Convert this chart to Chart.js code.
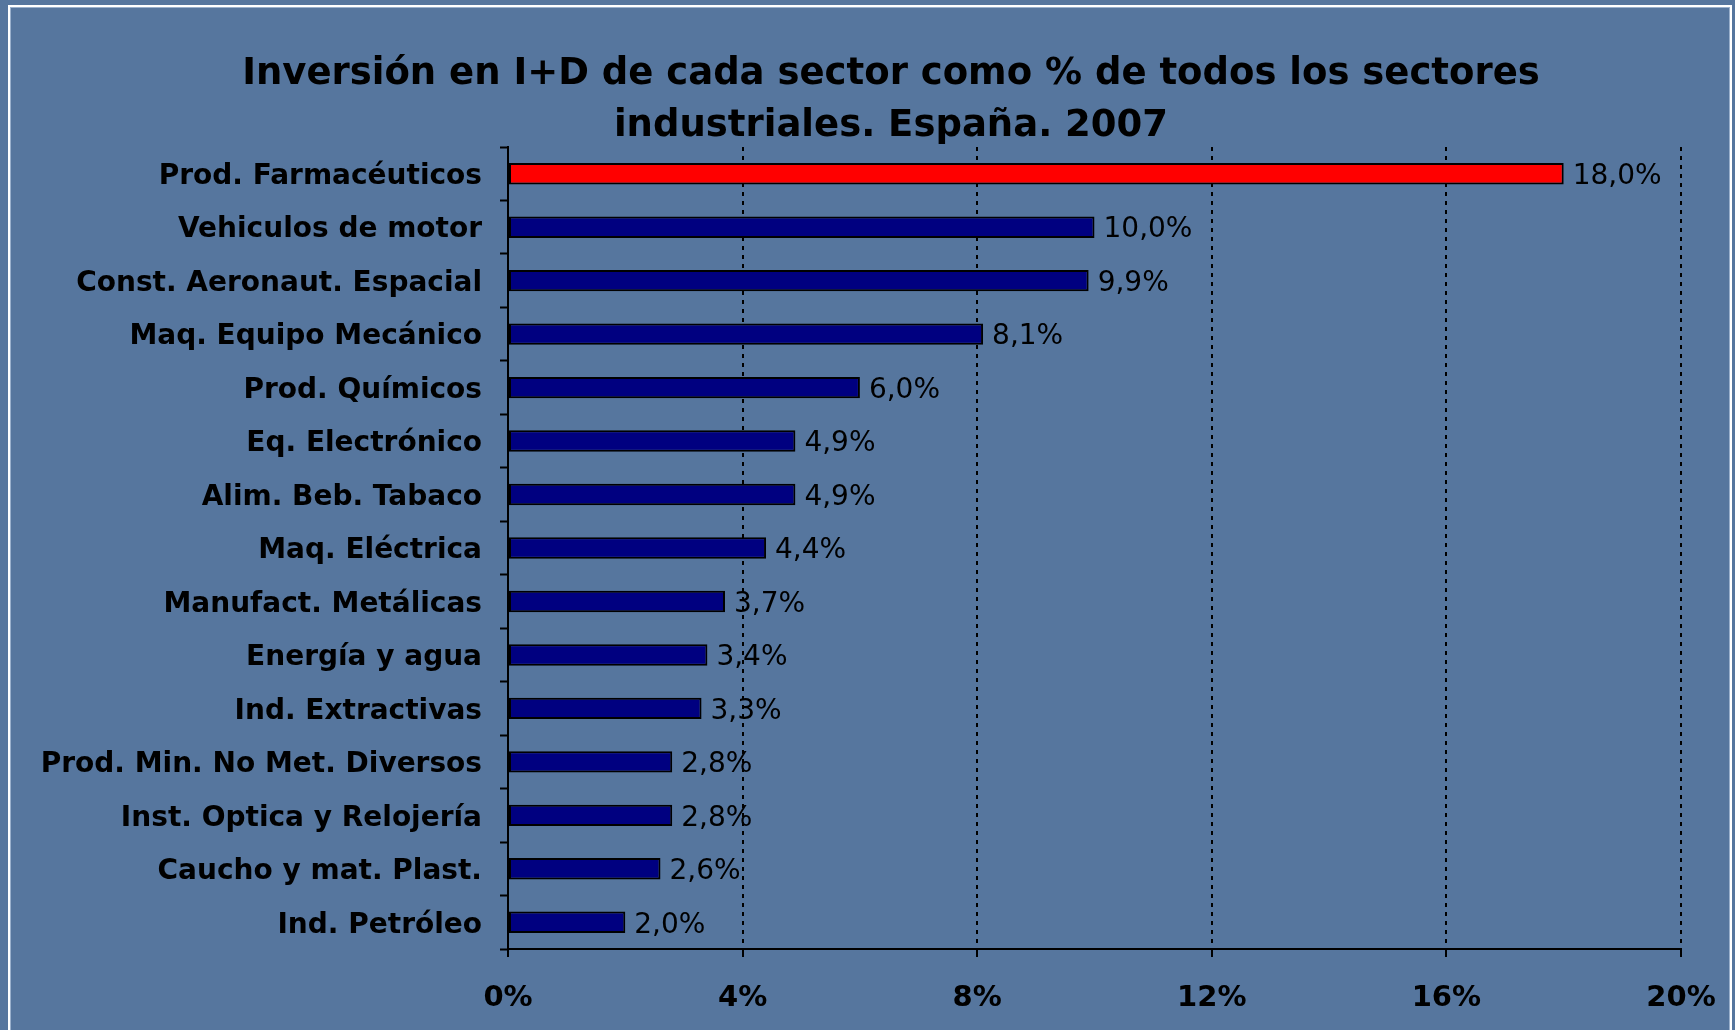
<!DOCTYPE html>
<html>
<head>
<meta charset="utf-8">
<script src="https://cdn.jsdelivr.net/npm/chart.js@4.4.1/dist/chart.umd.min.js"></script>
<style>
  html, body { margin: 0; padding: 0; background: rgb(86,118,158); overflow: hidden; }
  #wrap { position: relative; width: 1735px; height: 1030px; }
  #frame { position: absolute; left: 8px; top: 5px; width: 1724px; height: 1040px;
           border: 2px solid #ffffff; box-shadow: inset 0 0 0 1px rgba(200,215,235,0.6); box-sizing: border-box; }
  canvas { position: absolute; left: 0; top: 0; }
</style>
</head>
<body>
<div id="wrap">
  <div id="frame"></div>
  <canvas id="c" width="1735" height="1030"></canvas>
</div>
<script>
const titleLines = ["Inversión en I+D de cada sector como % de todos los sectores", "industriales. España. 2007"];
const categories = ["Prod. Farmacéuticos", "Vehiculos de motor", "Const. Aeronaut. Espacial", "Maq. Equipo Mecánico",
  "Prod. Químicos", "Eq. Electrónico", "Alim. Beb. Tabaco", "Maq. Eléctrica", "Manufact. Metálicas",
  "Energía y agua", "Ind. Extractivas", "Prod. Min. No Met. Diversos", "Inst. Optica y Relojería",
  "Caucho y mat. Plast.", "Ind. Petróleo"];
const values = [18.0, 10.0, 9.9, 8.1, 6.0, 4.9, 4.9, 4.4, 3.7, 3.4, 3.3, 2.8, 2.8, 2.6, 2.0];
const xTicks = [0, 4, 8, 12, 16, 20];

const FONT = "'DejaVu Sans', Verdana, sans-serif";

const titlePlugin = {
  id: 'customTitle',
  afterDraw(chart) {
    const ctx = chart.ctx;
    ctx.save();
    ctx.fillStyle = '#000';
    ctx.font = "bold 37px " + FONT;
    ctx.textAlign = 'center';
    ctx.textBaseline = 'middle';
    ctx.fillText(titleLines[0], 891, 74);
    ctx.fillText(titleLines[1], 891, 126);
    ctx.restore();
  }
};

const valueLabels = {
  id: 'valueLabels',
  afterDatasetsDraw(chart) {
    const ctx = chart.ctx;
    const meta = chart.getDatasetMeta(0);
    ctx.save();
    ctx.fillStyle = '#000';
    ctx.font = "28px " + FONT;
    ctx.textAlign = 'left';
    ctx.textBaseline = 'middle';
    meta.data.forEach((bar, i) => {
      const txt = values[i].toFixed(1).replace('.', ',') + '%';
      ctx.fillText(txt, bar.x + 9, bar.y + 3);
    });
    ctx.restore();
  }
};

new Chart(document.getElementById('c'), {
  type: 'bar',
  data: {
    labels: categories,
    datasets: [{
      data: values,
      backgroundColor: values.map((v, i) => i === 0 ? '#ff0000' : '#000080'),
      borderColor: '#000000',
      borderWidth: 2,
      borderSkipped: false,
      barPercentage: 0.40,
      categoryPercentage: 1.0
    }]
  },
  options: {
    indexAxis: 'y',
    responsive: false,
    devicePixelRatio: 1,
    animation: false,
    layout: { padding: { left: 0, right: 54, top: 147, bottom: 0 } },
    plugins: { legend: { display: false }, tooltip: { enabled: false }, title: { display: false } },
    scales: {
      x: {
        type: 'linear',
        min: 0, max: 20,
        afterBuildTicks(scale) { scale.ticks = xTicks.map(v => ({ value: v })); },
        afterFit(scale) { scale.height = 81; scale.paddingRight = 0; scale.paddingLeft = 0; },
        ticks: {
          callback: v => v + '%',
          color: '#000',
          font: { family: FONT, size: 29, weight: 'bold' },
          padding: 24,
          maxRotation: 0
        },
        grid: {
          display: true,
          drawOnChartArea: true,
          color: ctx => ctx.index === 0 ? 'rgba(0,0,0,0)' : '#000',
          lineWidth: 2,
          tickColor: '#000',
          tickLength: 8,
          tickWidth: 2,
          tickBorderDash: []
        },
        border: { display: true, color: '#000', width: 2, dash: [4, 5] }
      },
      y: {
        afterFit(scale) { scale.width = 508; },
        ticks: {
          color: '#000',
          font: { family: FONT, size: 28, weight: 'bold' },
          padding: 18,
          labelOffset: 3,
          autoSkip: false
        },
        grid: {
          display: true,
          offset: true,
          drawOnChartArea: false,
          color: '#000',
          tickColor: '#000',
          tickLength: 8,
          tickWidth: 2
        },
        border: { display: true, color: '#000', width: 2 }
      }
    }
  },
  plugins: [titlePlugin, valueLabels]
});
</script>
</body>
</html>
